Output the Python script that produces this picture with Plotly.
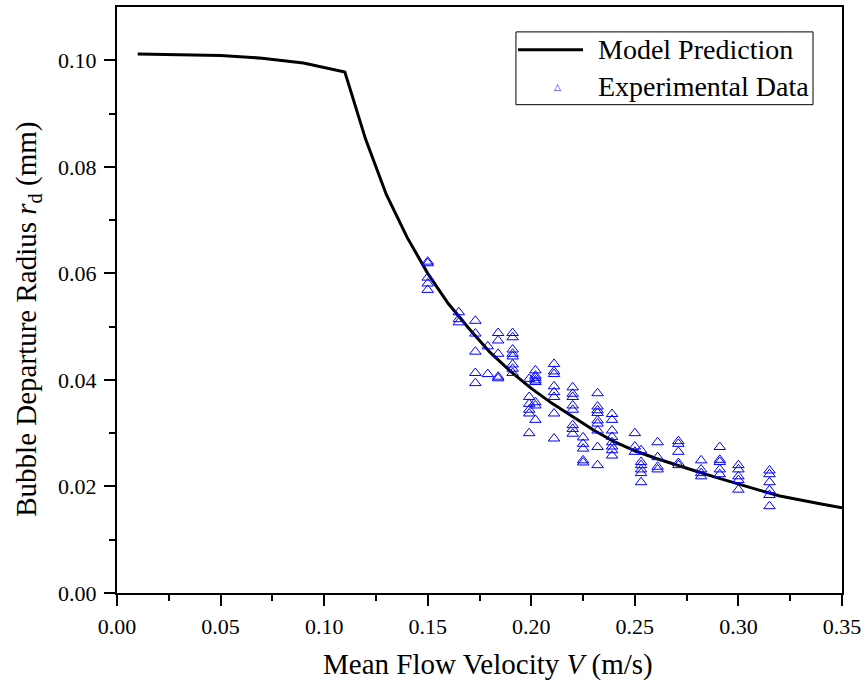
import plotly.graph_objects as go

# Model prediction curve
model_v = [0.01, 0.03, 0.05, 0.07, 0.09, 0.11, 0.12, 0.13, 0.14, 0.15, 0.16, 0.17, 0.18,
           0.19, 0.20, 0.21, 0.22, 0.23, 0.24, 0.25, 0.26, 0.27, 0.28, 0.29, 0.30, 0.31,
           0.32, 0.33, 0.34, 0.35]
model_r = [0.1012, 0.1011, 0.1009, 0.1004, 0.0995, 0.0978, 0.0852, 0.0748, 0.0668, 0.0600,
           0.0543, 0.0496, 0.0452, 0.0416, 0.0384, 0.0356, 0.0331, 0.0306, 0.0284, 0.0267,
           0.0253, 0.0240, 0.0228, 0.0216, 0.0204, 0.0193, 0.0182, 0.0174, 0.0167, 0.0160]

exp_v = ([0.150] * 5 + [0.165] * 3 + [0.173] * 5 + [0.179] * 2 + [0.184] * 5 + [0.191] * 8 +
         [0.199] * 6 + [0.202] * 8 + [0.211] * 8 + [0.220] * 8 + [0.225] * 5 + [0.232] * 9 +
         [0.239] * 8 + [0.250] * 3 + [0.253] * 6 + [0.261] * 4 + [0.271] * 5 + [0.282] * 4 +
         [0.291] * 5 + [0.300] * 5 + [0.315] * 6)
exp_r = ([0.0622, 0.0619, 0.0592, 0.0581, 0.0569] +
         [0.0527, 0.0514, 0.0508] +
         [0.0511, 0.0487, 0.0453, 0.0413, 0.0394] +
         [0.0463, 0.0411] +
         [0.0488, 0.0474, 0.0449, 0.0406, 0.0403] +
         [0.0488, 0.0480, 0.0457, 0.0449, 0.0444, 0.0429, 0.0421, 0.0413] +
         [0.0402, 0.0368, 0.0355, 0.0344, 0.0337, 0.0300] +
         [0.0418, 0.0408, 0.0404, 0.0399, 0.0396, 0.0358, 0.0352, 0.0325] +
         [0.0430, 0.0416, 0.0411, 0.0388, 0.0377, 0.0368, 0.0337, 0.0290] +
         [0.0386, 0.0374, 0.0368, 0.0352, 0.0344, 0.0315, 0.0308, 0.0299] +
         [0.0292, 0.0280, 0.0271, 0.0249, 0.0245] +
         [0.0375, 0.0350, 0.0343, 0.0338, 0.0324, 0.0318, 0.0305, 0.0274, 0.0240] +
         [0.0336, 0.0325, 0.0305, 0.0293, 0.0283, 0.0275, 0.0268, 0.0258] +
         [0.0300, 0.0275, 0.0265] +
         [0.0268, 0.0246, 0.0240, 0.0232, 0.0225, 0.0208] +
         [0.0283, 0.0255, 0.0237, 0.0232] +
         [0.0285, 0.0280, 0.0265, 0.0244, 0.0240] +
         [0.0249, 0.0232, 0.0225, 0.0219] +
         [0.0274, 0.0250, 0.0246, 0.0232, 0.0223] +
         [0.0240, 0.0232, 0.0219, 0.0212, 0.0194] +
         [0.0230, 0.0223, 0.0208, 0.0193, 0.0184, 0.0163])

x_ticks = [0.00, 0.05, 0.10, 0.15, 0.20, 0.25, 0.30, 0.35]
y_ticks = [0.00, 0.02, 0.04, 0.06, 0.08, 0.10]
legend_labels = ["Model Prediction", "Experimental Data"]
x_title = "Mean Flow Velocity <i>V</i> (m/s)"
y_title = "Bubble Departure Radius <i>r</i><sub>d</sub> (mm)"

FONT = "Liberation Serif, Times New Roman, serif"
BLUE = "#0000ff"

fig = go.Figure()
fig.add_trace(go.Scatter(x=model_v, y=model_r, mode="lines", name=legend_labels[0],
                         line=dict(color="black", width=3), showlegend=False))
fig.add_trace(go.Scatter(x=exp_v, y=exp_r, mode="markers", name=legend_labels[1],
                         marker=dict(symbol="triangle-up-open", size=10, color=BLUE,
                                     line=dict(width=1, color=BLUE)), showlegend=False))

axis_common = dict(showline=True, linecolor="black", linewidth=2, mirror=True,
                   ticks="outside", ticklen=11, tickwidth=2, tickcolor="black",
                   showgrid=False, zeroline=False,
                   tickfont=dict(family=FONT, size=22, color="black"))

fig.update_xaxes(range=[0, 0.35], tickvals=x_ticks, ticktext=[f"{v:.2f}" for v in x_ticks],
                 minor=dict(ticks="outside", ticklen=6, tickwidth=2, tickcolor="black",
                            dtick=0.025, showgrid=False),
                 ticklabelstandoff=2,
                 **axis_common)
fig.update_yaxes(range=[0, 0.11], tickvals=y_ticks, ticktext=[f"{v:.2f}" for v in y_ticks],
                 minor=dict(ticks="outside", ticklen=6, tickwidth=2, tickcolor="black",
                            tickvals=[0.01, 0.03, 0.05, 0.07, 0.09], showgrid=False),
                 ticklabelstandoff=3,
                 **axis_common)

# Legend box drawn in paper coordinates
L, R, T, B = 0.5503, 0.960, 0.9575, 0.8333
shapes = [
    dict(type="rect", xref="paper", yref="paper", x0=L, x1=R, y0=B, y1=T,
         line=dict(color="black", width=1), fillcolor="white", layer="above"),
    dict(type="line", xref="paper", yref="paper", x0=0.5531, x1=0.6428, y0=0.9269, y1=0.9269,
         line=dict(color="black", width=3), layer="above"),
]
annotations = [
    dict(text=legend_labels[0], xref="paper", yref="paper", x=0.660, y=0.9269,
         xanchor="left", yanchor="middle", showarrow=False,
         font=dict(family=FONT, size=28, color="black")),
    dict(text=legend_labels[1], xref="paper", yref="paper", x=0.660, y=0.864,
         xanchor="left", yanchor="middle", showarrow=False,
         font=dict(family=FONT, size=28, color="black")),
    dict(text="△", xref="paper", yref="paper", x=0.6069, y=0.864,
         xanchor="center", yanchor="middle", showarrow=False,
         font=dict(family="DejaVu Sans", size=9, color=BLUE)),
    # axis titles
    dict(text=x_title, xref="paper", yref="paper", x=0.512, y=-0.1224,
         xanchor="center", yanchor="middle", showarrow=False,
         font=dict(family=FONT, size=29, color="black")),
    dict(text=y_title, xref="paper", yref="paper", x=-0.1228, y=0.468, textangle=-90,
         xanchor="center", yanchor="middle", showarrow=False,
         font=dict(family=FONT, size=29, color="black")),
]

fig.update_layout(
    width=868, height=683,
    margin=dict(l=117, r=26, t=5, b=90),
    plot_bgcolor="white", paper_bgcolor="white",
    shapes=shapes, annotations=annotations,
    showlegend=False,
)

fig.write_html("out.html")
